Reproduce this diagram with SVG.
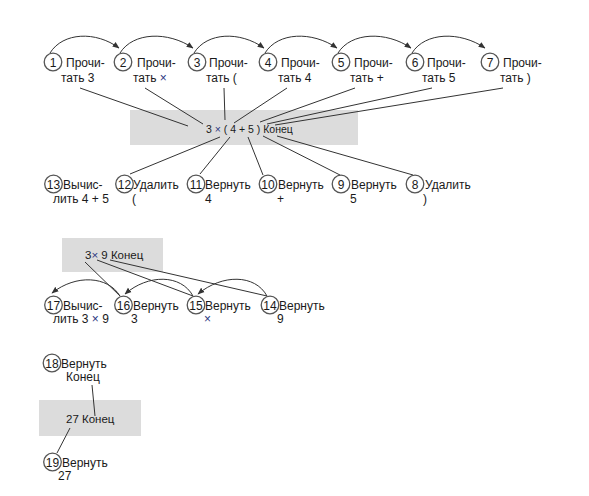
<svg xmlns="http://www.w3.org/2000/svg" width="589" height="496" viewBox="0 0 589 496">
<style>
  .t{font-family:"Liberation Sans",Arial,sans-serif;font-size:12px;fill:#1a1a1a}
  .n{font-family:"Liberation Sans",Arial,sans-serif;font-size:12px;fill:#1a1a1a;text-anchor:middle}
  .bt{font-family:"Liberation Sans",Arial,sans-serif;font-size:11.5px;fill:#1a1a1a}
  .sm{font-size:10.5px}
  .x{fill:#2a3580}
  .c{fill:#fff;stroke:#555;stroke-width:1.3}
  .box{fill:#dcdcdc}
  .ln{fill:none;stroke:#333;stroke-width:1}
  .arc{fill:none;stroke:#333;stroke-width:1;marker-end:url(#ah)}
</style>
<defs>
  <marker id="ah" viewBox="0 0 10 10" refX="9" refY="5" markerWidth="7" markerHeight="7" markerUnits="userSpaceOnUse" orient="auto">
    <path d="M0,1 L10,5 L0,9 Z" fill="#333"/>
  </marker>
</defs>

<g id="box1"><rect class="box" x="130" y="110" width="228" height="35"/>
  <text class="bt sm" x="206" y="133">3 <tspan class="x">×</tspan> ( 4 + 5 ) Конец</text></g>
<g id="box2"><rect class="box" x="62" y="238" width="101" height="34"/>
  <text class="bt" x="85" y="259">3<tspan class="x">×</tspan> 9 Конец</text></g>
<g id="box3"><rect class="box" x="39" y="400" width="102" height="36"/>
  <text class="bt" x="66" y="423">27 Конец</text></g>

<g id="connectors">
  <path class="arc" d="M50,53 C63,32 96,31 119,48"/>
  <path class="arc" d="M120,53 C133,32 168,31 193,48"/>
  <path class="arc" d="M194,53 C207,32 240,31 264,48"/>
  <path class="arc" d="M265,53 C278,32 312,31 337,48"/>
  <path class="arc" d="M338,53 C351,32 386,31 411,48"/>
  <path class="arc" d="M412,53 C425,32 460,31 485,48"/>
  <line class="ln" x1="80" y1="88" x2="188" y2="126"/>
  <line class="ln" x1="145" y1="88" x2="203" y2="124"/>
  <line class="ln" x1="224" y1="88" x2="225" y2="120"/>
  <line class="ln" x1="287" y1="88" x2="234" y2="123"/>
  <line class="ln" x1="355" y1="88" x2="260" y2="122"/>
  <line class="ln" x1="432" y1="88" x2="267" y2="124"/>
  <line class="ln" x1="503" y1="88" x2="275" y2="125"/>
  <line class="ln" x1="220" y1="137" x2="130" y2="174"/>
  <line class="ln" x1="230" y1="137" x2="200" y2="174"/>
  <line class="ln" x1="248" y1="137" x2="263" y2="175"/>
  <line class="ln" x1="263" y1="136" x2="340" y2="175"/>
  <line class="ln" x1="277" y1="136" x2="413" y2="175"/>
  <line class="ln" x1="85" y1="262" x2="120" y2="296"/>
  <line class="ln" x1="97" y1="260" x2="193" y2="296"/>
  <line class="ln" x1="110" y1="260" x2="267" y2="296"/>
  <path class="arc" d="M120,296 C108,276 76,274 52,293"/>
  <path class="arc" d="M193,296 C181,274 148,274 125,294"/>
  <path class="arc" d="M267,296 C255,274 222,274 198,294"/>
  <line class="ln" x1="92" y1="385" x2="95" y2="416"/>
  <line class="ln" x1="70" y1="428" x2="57" y2="453"/>
</g>

<g id="n1"><circle class="c" cx="53" cy="62" r="8.8"/><text class="n" x="53" y="66.5">1</text>
  <text class="t" x="66" y="66.5">Прочи-</text><text class="t" x="61" y="81.5">тать 3</text></g>
<g id="n2"><circle class="c" cx="123" cy="62" r="8.8"/><text class="n" x="123" y="66.5">2</text>
  <text class="t" x="137" y="66.5">Прочи-</text><text class="t" x="133" y="81.5">тать <tspan class="x">×</tspan></text></g>
<g id="n3"><circle class="c" cx="197" cy="62" r="8.8"/><text class="n" x="197" y="66.5">3</text>
  <text class="t" x="209" y="66.5">Прочи-</text><text class="t" x="206" y="81.5">тать (</text></g>
<g id="n4"><circle class="c" cx="268" cy="62" r="8.8"/><text class="n" x="268" y="66.5">4</text>
  <text class="t" x="281" y="66.5">Прочи-</text><text class="t" x="278" y="81.5">тать 4</text></g>
<g id="n5"><circle class="c" cx="341" cy="62" r="8.8"/><text class="n" x="341" y="66.5">5</text>
  <text class="t" x="354" y="66.5">Прочи-</text><text class="t" x="350" y="81.5">тать +</text></g>
<g id="n6"><circle class="c" cx="415" cy="62" r="8.8"/><text class="n" x="415" y="66.5">6</text>
  <text class="t" x="427" y="66.5">Прочи-</text><text class="t" x="422" y="81.5">тать 5</text></g>
<g id="n7"><circle class="c" cx="490" cy="62" r="8.8"/><text class="n" x="490" y="66.5">7</text>
  <text class="t" x="503" y="66.5">Прочи-</text><text class="t" x="500" y="81.5">тать )</text></g>

<g id="n13"><circle class="c" cx="53.5" cy="184" r="8.8"/><text class="n" x="53.5" y="188.5">13</text>
  <text class="t" x="63" y="188.5">Вычис-</text><text class="t" x="53" y="202.5">лить 4 + 5</text></g>
<g id="n12"><circle class="c" cx="124.5" cy="184" r="8.8"/><text class="n" x="124.5" y="188.5">12</text>
  <text class="t" x="133" y="188.5">Удалить</text><text class="t" x="132" y="202.5">(</text></g>
<g id="n11"><circle class="c" cx="196" cy="184" r="8.8"/><text class="n" x="196" y="188.5">11</text>
  <text class="t" x="205" y="188.5">Вернуть</text><text class="t" x="205" y="202.5">4</text></g>
<g id="n10"><circle class="c" cx="268" cy="184" r="8.8"/><text class="n" x="268" y="188.5">10</text>
  <text class="t" x="278" y="188.5">Вернуть</text><text class="t" x="277" y="202.5">+</text></g>
<g id="n9"><circle class="c" cx="341" cy="184" r="8.8"/><text class="n" x="341" y="188.5">9</text>
  <text class="t" x="351" y="188.5">Вернуть</text><text class="t" x="350" y="202.5">5</text></g>
<g id="n8"><circle class="c" cx="415" cy="184" r="8.8"/><text class="n" x="415" y="188.5">8</text>
  <text class="t" x="425" y="188.5">Удалить</text><text class="t" x="423" y="202.5">)</text></g>

<g id="n17"><circle class="c" cx="53.5" cy="305" r="8.8"/><text class="n" x="53.5" y="309.5">17</text>
  <text class="t" x="63" y="309.5">Вычис-</text><text class="t" x="53" y="323">лить 3 <tspan class="x">×</tspan> 9</text></g>
<g id="n16"><circle class="c" cx="123.5" cy="305" r="8.8"/><text class="n" x="123.5" y="309.5">16</text>
  <text class="t" x="133" y="309.5">Вернуть</text><text class="t" x="131" y="323">3</text></g>
<g id="n15"><circle class="c" cx="196" cy="305" r="8.8"/><text class="n" x="196" y="309.5">15</text>
  <text class="t" x="205" y="309.5">Вернуть</text><text class="t x" x="204" y="323">×</text></g>
<g id="n14"><circle class="c" cx="270" cy="305" r="8.8"/><text class="n" x="270" y="309.5">14</text>
  <text class="t" x="279" y="309.5">Вернуть</text><text class="t" x="277" y="323">9</text></g>

<g id="n18"><circle class="c" cx="52" cy="363" r="8.8"/><text class="n" x="52" y="367.5">18</text>
  <text class="t" x="61" y="367.5">Вернуть</text><text class="t" x="66" y="381">Конец</text></g>
<g id="n19"><circle class="c" cx="52.5" cy="462" r="8.8"/><text class="n" x="52.5" y="466.5">19</text>
  <text class="t" x="62" y="466.5">Вернуть</text><text class="t" x="58" y="480">27</text></g>
</svg>
